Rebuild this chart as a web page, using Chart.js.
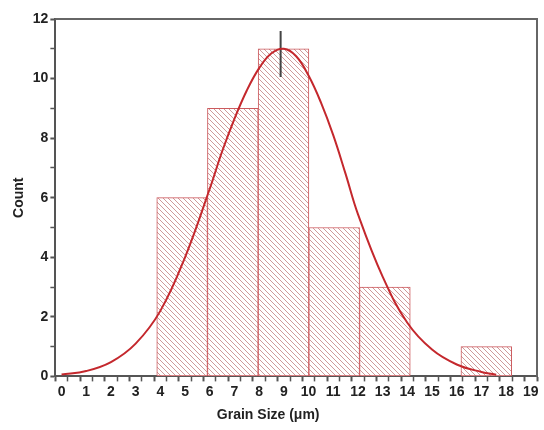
<!DOCTYPE html>
<html>
<head>
<meta charset="utf-8">
<script src="https://cdn.jsdelivr.net/npm/chart.js@4"></script>
<style>
  html, body { margin: 0; padding: 0; background: #fff; }
  #wrap { width: 544px; height: 430px; }
</style>
</head>
<body>
<div id="wrap"><canvas id="chart" width="544" height="430"></canvas></div>
<script>
// histogram bins (centre of each 2 µm bin) and counts
var binCenters = [5, 7, 9, 11, 13, 17];
var binCounts = [6, 9, 11, 5, 3, 1];

// fitted normal curve
var fitX = [0, 1, 2, 3, 4, 5, 6, 6.5, 7, 7.5, 8, 8.5, 9, 9.5, 10, 10.5, 11, 11.5, 12, 13, 14, 15, 16, 17, 17.6];
var fitY = [0.06, 0.18, 0.48, 1.1, 2.2, 4.0, 6.3, 7.55, 8.65, 9.6, 10.35, 10.85, 11.0, 10.75, 10.1, 9.2, 8.1, 6.8, 5.45, 3.35, 1.8, 0.9, 0.4, 0.15, 0.06];

// peak marker
var peakX = 8.87;
var peakMarkY = [10.05, 11.6];

var xTicksMax = 19;
var yTicksMax = 12;

function hatch() {
  var s = 5;
  var c = document.createElement("canvas");
  c.width = s; c.height = s;
  var g = c.getContext("2d");
  g.fillStyle = "#fff";
  g.fillRect(0, 0, s, s);
  g.strokeStyle = "#cf9a9a";
  g.lineWidth = 1;
  g.beginPath();
  g.moveTo(-1, -1); g.lineTo(s + 1, s + 1);
  g.moveTo(-1, s - 1); g.lineTo(1, s + 1);
  g.moveTo(s - 1, -1); g.lineTo(s + 1, 1);
  g.stroke();
  return document.getElementById("chart").getContext("2d").createPattern(c, "repeat");
}

function isMajorX(c) { return !c.tick || Number.isInteger(c.tick.value); }
function isMajorY(c) { return !c.tick || c.tick.value % 2 === 0; }

var frame = {
  id: "frame",
  afterDatasetsDraw: function (chart) {
    var a = chart.chartArea, ctx = chart.ctx;
    ctx.save();
    ctx.strokeStyle = "#666";
    ctx.lineWidth = 2;
    ctx.beginPath();
    ctx.moveTo(a.left, a.top);
    ctx.lineTo(a.right, a.top);
    ctx.lineTo(a.right, a.bottom);
    ctx.stroke();
    ctx.restore();
  }
};

var tickFont = { family: "Arial, 'Liberation Sans', sans-serif", size: 14, weight: "bold" };
var titleFont = { family: "Arial, 'Liberation Sans', sans-serif", size: 14, weight: "bold" };

new Chart(document.getElementById("chart").getContext("2d"), {
  type: "bar",
  data: {
    datasets: [
      {
        type: "line",
        data: fitX.map(function (x, i) { return { x: x, y: fitY[i] }; }),
        xAxisID: "x",
        borderColor: "#c4282d",
        borderWidth: 2,
        pointRadius: 0,
        tension: 0.4,
        order: 0
      },
      {
        type: "line",
        data: peakMarkY.map(function (y) { return { x: peakX, y: y }; }),
        xAxisID: "x",
        borderColor: "#444",
        borderWidth: 2,
        pointRadius: 0,
        order: 1
      },
      {
        type: "bar",
        data: binCenters.map(function (x, i) { return { x: x, y: binCounts[i] }; }),
        xAxisID: "xb",
        backgroundColor: hatch(),
        borderColor: "#cc5a5e",
        borderWidth: 1,
        borderSkipped: false,
        barPercentage: 1,
        categoryPercentage: 1,
        grouped: false,
        order: 2
      }
    ]
  },
  options: {
    responsive: false,
    animation: false,
    events: [],
    layout: { padding: { top: 19, right: 7, left: 7, bottom: 0 } },
    plugins: { legend: { display: false }, tooltip: { enabled: false } },
    scales: {
      xb: {
        type: "linear", display: false, min: 0, max: xTicksMax,
        afterBuildTicks: function (s) { s.ticks = []; }
      },
      x: {
        type: "linear", min: 0, max: xTicksMax,
        border: { display: true, color: "#555", width: 2 },
        grid: {
          drawOnChartArea: false, drawTicks: true, tickLength: 5,
          tickColor: "#555",
          tickWidth: function (c) { return isMajorX(c) ? 2 : 1.5; }
        },
        ticks: {
          stepSize: 0.5, autoSkip: false, maxRotation: 0, padding: 2,
          color: "#222", font: tickFont,
          callback: function (v) { return Number.isInteger(v) ? v : ""; }
        },
        title: { display: true, text: "Grain Size (μm)\u2003\u2003\u2003\u2003", color: "#222", font: titleFont, padding: { top: 5, bottom: 6 } }
      },
      y: {
        type: "linear", min: 0, max: yTicksMax,
        border: { display: true, color: "#555", width: 2 },
        grid: {
          drawOnChartArea: false, drawTicks: true, tickLength: 5,
          tickColor: "#555",
          tickWidth: function (c) { return isMajorY(c) ? 2 : 1.5; }
        },
        ticks: {
          stepSize: 1, autoSkip: false, padding: 2,
          color: "#222", font: tickFont,
          callback: function (v) { return v % 2 === 0 ? v : ""; }
        },
        title: { display: true, text: "Count", color: "#222", font: titleFont, padding: { bottom: 3 } }
      }
    }
  },
  plugins: [frame]
});
</script>
</body>
</html>
